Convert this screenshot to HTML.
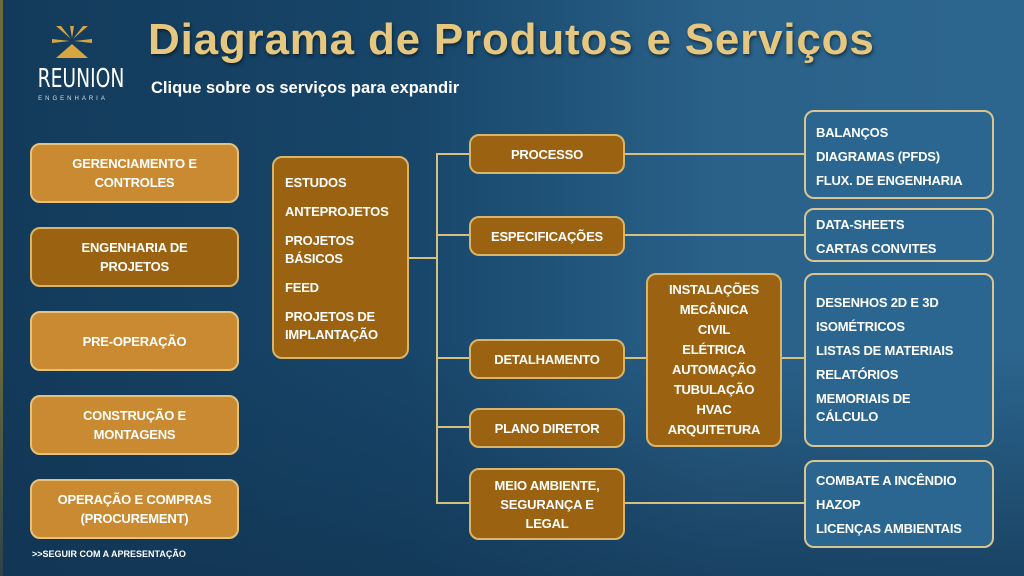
<!DOCTYPE html>
<html><head><meta charset="utf-8"><style>
*{margin:0;padding:0;box-sizing:border-box}
body{width:1024px;height:576px;overflow:hidden;font-family:"Liberation Sans",sans-serif;}
#bg{position:absolute;left:0;top:0;width:1024px;height:576px;background:linear-gradient(90deg,#133a5a 0%,#17466a 40%,#2a6189 70%,#2c668f 100%);border-left:3px solid #6b6a3a}
#bg2{position:absolute;left:0;top:0;width:1024px;height:576px;background:linear-gradient(180deg,rgba(20,50,80,0) 0%,rgba(20,50,80,0) 60%,rgba(18,52,82,.7) 100%)}
.b{position:absolute;border-radius:10px;border:2px solid #e0c27a;color:#fff;font-weight:bold;font-size:13px;letter-spacing:-0.2px;display:flex;align-items:center;justify-content:center;text-align:center;line-height:19px}
.l{background:#c98a32;border-color:#e4c27c}
.d{background:#9a6211;border-color:#d9b56a}
.bl{background:#2a6690;border-color:#d8c590;display:block;text-align:left;padding-left:10px}
.ln{position:absolute;background:#d8bf7c}
</style></head><body>
<div id="bg"></div><div id="bg2"></div>
<svg style="position:absolute;left:50px;top:24px" width="44" height="40" viewBox="0 0 44 40">
<g fill="#d7a542"><polygon points="6,2 11,2 21,15"/><polygon points="33,2 38,2 23,15"/><polygon points="20,2 24,2 22,14"/><polygon points="2,15 20,17 2,19"/><polygon points="42,15 24,17 42,19"/><polygon points="22,20 38,34 6,34"/></g></svg>
<div style="position:absolute;left:29px;top:64px;width:86px;text-align:center;color:#fff;font-size:26px;font-family:'DejaVu Sans Condensed','Liberation Sans',sans-serif;transform:scaleX(.8);">REUNION</div>
<div style="position:absolute;left:31px;top:96px;width:84px;text-align:center;color:#ddd;font-size:6px;letter-spacing:3px">ENGENHARIA</div>
<div style="position:absolute;left:148px;top:15px;color:#e6c77f;font-size:44px;font-weight:bold;letter-spacing:0.8px;text-shadow:1px 2px 3px rgba(0,0,0,.5)">Diagrama de Produtos e Serviços</div>
<div style="position:absolute;left:151px;top:79px;color:#fff;font-size:16.5px;font-weight:bold">Clique sobre os serviços para expandir</div>

<div class="ln" style="left:408px;top:257px;width:30px;height:2px"></div>
<div class="ln" style="left:436px;top:153px;width:2px;height:351px"></div>
<div class="ln" style="left:436px;top:153px;width:34px;height:2px"></div>
<div class="ln" style="left:436px;top:234px;width:34px;height:2px"></div>
<div class="ln" style="left:436px;top:357px;width:34px;height:2px"></div>
<div class="ln" style="left:436px;top:426px;width:34px;height:2px"></div>
<div class="ln" style="left:436px;top:502px;width:34px;height:2px"></div>
<div class="ln" style="left:624px;top:153px;width:181px;height:2px"></div>
<div class="ln" style="left:624px;top:234px;width:181px;height:2px"></div>
<div class="ln" style="left:624px;top:357px;width:23px;height:2px"></div>
<div class="ln" style="left:781px;top:357px;width:24px;height:2px"></div>
<div class="ln" style="left:624px;top:502px;width:181px;height:2px"></div>

<div class="b l" style="left:30px;top:143px;width:209px;height:60px">GERENCIAMENTO E<br>CONTROLES</div>
<div class="b d" style="left:30px;top:227px;width:209px;height:60px">ENGENHARIA DE<br>PROJETOS</div>
<div class="b l" style="left:30px;top:311px;width:209px;height:60px">PRE-OPERAÇÃO</div>
<div class="b l" style="left:30px;top:395px;width:209px;height:60px">CONSTRUÇÃO E<br>MONTAGENS</div>
<div class="b l" style="left:30px;top:479px;width:209px;height:60px">OPERAÇÃO E COMPRAS<br>(PROCUREMENT)</div>
<div style="position:absolute;left:32px;top:549px;color:#fff;font-size:9px;font-weight:bold">&gt;&gt;SEGUIR COM A APRESENTAÇÃO</div>

<div class="b d" style="left:272px;top:156px;width:137px;height:203px;display:block;text-align:left;padding:16px 0 0 11px;line-height:18px">ESTUDOS<div style="height:11px"></div>ANTEPROJETOS<div style="height:11px"></div>PROJETOS<br>BÁSICOS<div style="height:11px"></div>FEED<div style="height:11px"></div>PROJETOS DE<br>IMPLANTAÇÃO</div>

<div class="b d" style="left:469px;top:134px;width:156px;height:40px">PROCESSO</div>
<div class="b d" style="left:469px;top:216px;width:156px;height:40px">ESPECIFICAÇÕES</div>
<div class="b d" style="left:469px;top:339px;width:156px;height:40px">DETALHAMENTO</div>
<div class="b d" style="left:469px;top:408px;width:156px;height:40px">PLANO DIRETOR</div>
<div class="b d" style="left:469px;top:468px;width:156px;height:72px">MEIO AMBIENTE,<br>SEGURANÇA E<br>LEGAL</div>

<div class="b d" style="left:646px;top:273px;width:136px;height:174px;line-height:20px">INSTALAÇÕES<br>MECÂNICA<br>CIVIL<br>ELÉTRICA<br>AUTOMAÇÃO<br>TUBULAÇÃO<br>HVAC<br>ARQUITETURA</div>

<div class="b bl" style="left:804px;top:110px;width:190px;height:89px;padding-top:9px;line-height:24px">BALANÇOS<br>DIAGRAMAS (PFDS)<br>FLUX. DE ENGENHARIA</div>
<div class="b bl" style="left:804px;top:208px;width:190px;height:54px;padding-top:3px;line-height:24px">DATA-SHEETS<br>CARTAS CONVITES</div>
<div class="b bl" style="left:804px;top:273px;width:190px;height:174px;padding-top:16px;line-height:24px">DESENHOS 2D E 3D<br>ISOMÉTRICOS<br>LISTAS DE MATERIAIS<br>RELATÓRIOS<div style="line-height:18px;margin-top:3px">MEMORIAIS DE<br>CÁLCULO</div></div>
<div class="b bl" style="left:804px;top:460px;width:190px;height:88px;padding-top:7px;line-height:24px">COMBATE A INCÊNDIO<br>HAZOP<br>LICENÇAS AMBIENTAIS</div>
</body></html>
